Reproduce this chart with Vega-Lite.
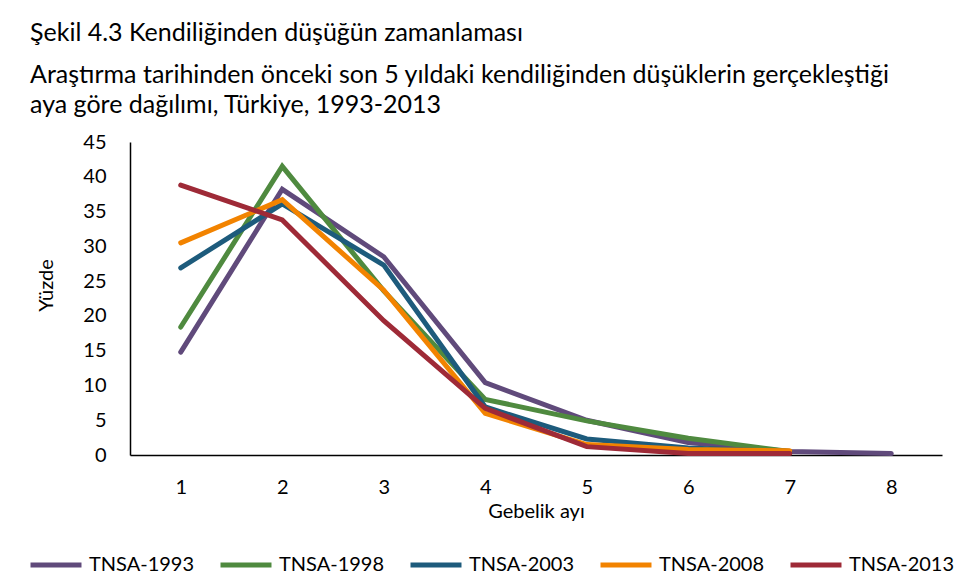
{
  "$schema": "https://vega.github.io/schema/vega-lite/v6.json",
  "width": 812,
  "height": 313,
  "autosize": {"type": "none"},
  "padding": {"left": 130, "top": 142, "right": 19, "bottom": 132},
  "background": "white",
  "title": {
    "text": "Şekil 4.3 Kendiliğinden düşüğün zamanlaması",
    "subtitle": ["Araştırma tarihinden önceki son 5 yıldaki kendiliğinden düşüklerin gerçekleştiği", "aya göre dağılımı, Türkiye, 1993-2013"],
    "anchor": "start",
    "frame": "group",
    "dx": -100,
    "offset": 14,
    "font": "Lato",
    "fontSize": 25,
    "fontWeight": "normal",
    "color": "black",
    "subtitleFont": "Lato",
    "subtitleFontSize": 25,
    "subtitleColor": "black",
    "subtitleLineHeight": 30,
    "subtitlePadding": 17
  },
  "data": {
    "values": [
      {"ay": 1, "seri": "TNSA-1993", "yuzde": 14.8},
      {"ay": 2, "seri": "TNSA-1993", "yuzde": 38.2},
      {"ay": 3, "seri": "TNSA-1993", "yuzde": 28.5},
      {"ay": 4, "seri": "TNSA-1993", "yuzde": 10.4},
      {"ay": 5, "seri": "TNSA-1993", "yuzde": 5.0},
      {"ay": 6, "seri": "TNSA-1993", "yuzde": 1.8},
      {"ay": 7, "seri": "TNSA-1993", "yuzde": 0.5},
      {"ay": 8, "seri": "TNSA-1993", "yuzde": 0.2},
      {"ay": 1, "seri": "TNSA-1998", "yuzde": 18.4},
      {"ay": 2, "seri": "TNSA-1998", "yuzde": 41.5},
      {"ay": 3, "seri": "TNSA-1998", "yuzde": 23.6},
      {"ay": 4, "seri": "TNSA-1998", "yuzde": 8.0},
      {"ay": 5, "seri": "TNSA-1998", "yuzde": 4.9},
      {"ay": 6, "seri": "TNSA-1998", "yuzde": 2.4},
      {"ay": 7, "seri": "TNSA-1998", "yuzde": 0.5},
      {"ay": 1, "seri": "TNSA-2003", "yuzde": 26.9},
      {"ay": 2, "seri": "TNSA-2003", "yuzde": 36.1},
      {"ay": 3, "seri": "TNSA-2003", "yuzde": 27.3},
      {"ay": 4, "seri": "TNSA-2003", "yuzde": 6.9},
      {"ay": 5, "seri": "TNSA-2003", "yuzde": 2.3},
      {"ay": 6, "seri": "TNSA-2003", "yuzde": 1.0},
      {"ay": 7, "seri": "TNSA-2003", "yuzde": 0.5},
      {"ay": 1, "seri": "TNSA-2008", "yuzde": 30.5},
      {"ay": 2, "seri": "TNSA-2008", "yuzde": 36.7},
      {"ay": 3, "seri": "TNSA-2008", "yuzde": 23.7},
      {"ay": 4, "seri": "TNSA-2008", "yuzde": 6.0},
      {"ay": 5, "seri": "TNSA-2008", "yuzde": 1.5},
      {"ay": 6, "seri": "TNSA-2008", "yuzde": 0.8},
      {"ay": 7, "seri": "TNSA-2008", "yuzde": 0.6},
      {"ay": 1, "seri": "TNSA-2013", "yuzde": 38.8},
      {"ay": 2, "seri": "TNSA-2013", "yuzde": 33.8},
      {"ay": 3, "seri": "TNSA-2013", "yuzde": 19.3},
      {"ay": 4, "seri": "TNSA-2013", "yuzde": 6.7},
      {"ay": 5, "seri": "TNSA-2013", "yuzde": 1.2},
      {"ay": 6, "seri": "TNSA-2013", "yuzde": 0.2},
      {"ay": 7, "seri": "TNSA-2013", "yuzde": 0.2}
    ]
  },
  "mark": {"type": "line", "strokeWidth": 5, "strokeCap": "round", "strokeJoin": "miter"},
  "encoding": {
    "x": {
      "field": "ay", "type": "quantitative",
      "scale": {"domain": [0.5, 8.5], "nice": false, "zero": false},
      "axis": {
        "values": [1, 2, 3, 4, 5, 6, 7, 8],
        "title": "Gebelik ayı",
        "grid": false, "ticks": false,
        "domainColor": "black", "domainWidth": 1.5,
        "labelFont": "Lato", "labelFontSize": 20, "labelColor": "black", "labelPadding": 22,
        "titleFont": "Lato", "titleFontSize": 20, "titleFontWeight": "normal", "titleColor": "black", "titlePadding": 4
      }
    },
    "y": {
      "field": "yuzde", "type": "quantitative",
      "scale": {"domain": [0, 45], "nice": false},
      "axis": {
        "values": [0, 5, 10, 15, 20, 25, 30, 35, 40, 45],
        "title": "Yüzde",
        "grid": false, "ticks": false,
        "domainColor": "black", "domainWidth": 1.5,
        "labelFont": "Lato", "labelFontSize": 20, "labelColor": "black", "labelPadding": 24,
        "titleFont": "Lato", "titleFontSize": 20, "titleFontWeight": "normal", "titleColor": "black", "titlePadding": 26,
        "titleY": 143
      }
    },
    "color": {
      "field": "seri", "type": "nominal",
      "scale": {
        "domain": ["TNSA-1993", "TNSA-1998", "TNSA-2003", "TNSA-2008", "TNSA-2013"],
        "range": ["#604a7b", "#4f8a3f", "#1d5b7c", "#f28300", "#9e2a37"]
      },
      "legend": {
        "title": null,
        "orient": "none",
        "direction": "horizontal",
        "legendX": -102,
        "legendY": 395,
        "symbolType": "stroke",
        "symbolSize": 2600,
        "symbolStrokeWidth": 5,
        "labelFont": "Lato",
        "labelFontSize": 20,
        "labelColor": "black",
        "labelOffset": 5,
        "columnPadding": 15,
        "columns": 5
      }
    }
  },
  "config": {"view": {"stroke": null}}
}
